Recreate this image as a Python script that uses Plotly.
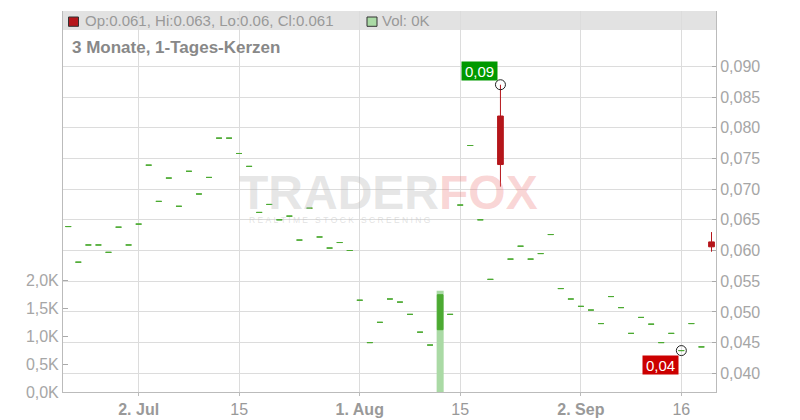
import plotly.graph_objects as go

# ---------------- data ----------------
tick_pos = [7, 17, 29, 39, 51, 61]
tick_labels = ["<b>2. Jul</b>", "15", "<b>1. Aug</b>", "15", "<b>2. Sep</b>", "16"]

open_ = [0.0639, 0.0581, 0.0609, 0.0609, 0.0597, 0.0638, 0.0609, 0.0643, 0.0739, 0.0680,
         0.0718, 0.0672, 0.0729, 0.0692, 0.0719, 0.0783, 0.0783, 0.0758, 0.0737, 0.0662,
         0.0675, 0.0650, 0.0656, 0.0617, 0.0669, 0.0622, 0.0604, 0.0613, 0.0600, 0.0519,
         0.0450, 0.0483, 0.0521, 0.0516, 0.0496, 0.0467, 0.0446, 0.0471, 0.0496, 0.0674,
         0.0771, 0.0650, 0.0553, 0.0819, 0.0586, 0.0607, 0.0586, 0.0595, 0.0626, 0.0538,
         0.0521, 0.0509, 0.0503, 0.0481, 0.0525, 0.0507, 0.0465, 0.0491, 0.0480, 0.0450,
         0.0465, 0.0437, 0.0481, 0.0443, 0.0614]
high = [0.0639, 0.0581, 0.0609, 0.0609, 0.0597, 0.0638, 0.0609, 0.0643, 0.0739, 0.0680,
        0.0718, 0.0672, 0.0729, 0.0692, 0.0719, 0.0783, 0.0783, 0.0758, 0.0737, 0.0662,
        0.0675, 0.0650, 0.0656, 0.0617, 0.0669, 0.0622, 0.0604, 0.0613, 0.0600, 0.0519,
        0.0450, 0.0483, 0.0521, 0.0516, 0.0496, 0.0467, 0.0446, 0.0528, 0.0496, 0.0674,
        0.0771, 0.0650, 0.0553, 0.0870, 0.0586, 0.0607, 0.0586, 0.0595, 0.0626, 0.0538,
        0.0521, 0.0509, 0.0503, 0.0481, 0.0525, 0.0507, 0.0465, 0.0491, 0.0480, 0.0450,
        0.0465, 0.0437, 0.0481, 0.0443, 0.0630]
low = [0.0639, 0.0581, 0.0609, 0.0609, 0.0597, 0.0638, 0.0609, 0.0643, 0.0739, 0.0680,
       0.0718, 0.0672, 0.0729, 0.0692, 0.0719, 0.0783, 0.0783, 0.0758, 0.0737, 0.0662,
       0.0675, 0.0650, 0.0656, 0.0617, 0.0669, 0.0622, 0.0604, 0.0613, 0.0600, 0.0519,
       0.0450, 0.0483, 0.0521, 0.0516, 0.0496, 0.0467, 0.0446, 0.0471, 0.0496, 0.0674,
       0.0771, 0.0650, 0.0553, 0.0704, 0.0586, 0.0607, 0.0586, 0.0595, 0.0626, 0.0538,
       0.0521, 0.0509, 0.0503, 0.0481, 0.0525, 0.0507, 0.0465, 0.0491, 0.0480, 0.0450,
       0.0465, 0.0437, 0.0481, 0.0443, 0.0598]
close = [0.0639, 0.0581, 0.0609, 0.0609, 0.0597, 0.0638, 0.0609, 0.0643, 0.0739, 0.0680,
         0.0718, 0.0672, 0.0729, 0.0692, 0.0719, 0.0783, 0.0783, 0.0758, 0.0737, 0.0662,
         0.0675, 0.0650, 0.0656, 0.0617, 0.0669, 0.0622, 0.0604, 0.0613, 0.0600, 0.0519,
         0.0450, 0.0483, 0.0521, 0.0516, 0.0496, 0.0467, 0.0446, 0.0528, 0.0496, 0.0674,
         0.0771, 0.0650, 0.0553, 0.0740, 0.0586, 0.0607, 0.0586, 0.0595, 0.0626, 0.0538,
         0.0521, 0.0509, 0.0503, 0.0481, 0.0525, 0.0507, 0.0465, 0.0491, 0.0480, 0.0450,
         0.0465, 0.0437, 0.0481, 0.0443, 0.0606]
volume = [0] * 37 + [1810] + [0] * 27

vol_ticks = [0, 500, 1000, 1500, 2000]
vol_labels = ["0,0K", "0,5K", "1,0K", "1,5K", "2,0K"]
price_ticks = [0.040, 0.045, 0.050, 0.055, 0.060, 0.065, 0.070, 0.075, 0.080, 0.085, 0.090]

title_text = "3 Monate, 1-Tages-Kerzen"

# ---------------- styling ----------------
GREEN = "#4caa32"
RED = "#b5161b"
VOLGREEN = "#aadaa5"
GRID = "#dcdcdc"
AXIS = "#bbbbbb"
FONT = "Liberation Sans, Arial, sans-serif"

# plot area in pixels: left 63, right 716, top 11, bottom 392
L, R, T, B = 63, 716, 11, 392
W, H = R - L, B - T
def px(x):
    return (x - L) / W
def py(y):
    return (B - y) / H

n = len(close)
idx = list(range(n))
flat = [open_[i] == close[i] for i in idx]

def pick(arr, cond):
    return [arr[i] if cond(i) else None for i in idx]

fig = go.Figure()

# volume bars (primary y, left)
fig.add_trace(go.Bar(x=idx, y=volume, width=0.7, marker=dict(color=VOLGREEN, line=dict(width=0)),
                     yaxis="y", hoverinfo="skip"))

# flat days: drawn as green dashes
fig.add_trace(go.Candlestick(
    x=[i if flat[i] else None for i in idx],
    open=pick(open_, lambda i: flat[i]), high=pick(high, lambda i: flat[i]),
    low=pick(low, lambda i: flat[i]), close=pick(close, lambda i: flat[i]),
    increasing=dict(line=dict(color=GREEN, width=1), fillcolor=GREEN),
    decreasing=dict(line=dict(color=GREEN, width=1), fillcolor=GREEN),
    yaxis="y2", whiskerwidth=0))

# real candles
fig.add_trace(go.Candlestick(
    x=[i if not flat[i] else None for i in idx],
    open=pick(open_, lambda i: not flat[i]), high=pick(high, lambda i: not flat[i]),
    low=pick(low, lambda i: not flat[i]), close=pick(close, lambda i: not flat[i]),
    increasing=dict(line=dict(color=GREEN, width=1), fillcolor=GREEN),
    decreasing=dict(line=dict(color=RED, width=1), fillcolor=RED),
    yaxis="y2", whiskerwidth=0))

imax = max(idx, key=lambda i: high[i])
imin = min(idx, key=lambda i: low[i])
fig.add_trace(go.Scatter(x=[imax, imin], y=[high[imax], low[imin]], mode="markers", yaxis="y2",
                         marker=dict(symbol="circle-open", size=10, color="#222222", line=dict(width=1)),
                         hoverinfo="skip"))

def fmt2(v):
    return f"{v:.2f}".replace(".", ",")

def fmtg(v):
    return f"{round(v, 3):g}"

annotations = [
    dict(x=imax, y=high[imax], xref="x", yref="y2", text=fmt2(high[imax]), showarrow=False,
         xanchor="right", yanchor="bottom", xshift=-2.5, yshift=4,
         bgcolor="#009900", font=dict(color="white", size=15, family=FONT),
         width=35, height=18, borderpad=0),
    dict(x=imin, y=low[imin], xref="x", yref="y2", text=fmt2(low[imin]), showarrow=False,
         xanchor="right", yanchor="top", xshift=-2.5, yshift=-4.5,
         bgcolor="#cc0000", font=dict(color="white", size=15, family=FONT),
         width=35, height=18, borderpad=0),
    # header
    dict(x=px(84), y=py(20.7), xref="paper", yref="paper", xanchor="left", yanchor="middle",
         showarrow=False, borderpad=0,
         text=f"Op:{fmtg(open_[-1])}, Hi:{fmtg(high[-1])}, Lo:{fmtg(low[-1])}, Cl:{fmtg(close[-1])}",
         font=dict(size=15, color="#999999", family=FONT)),
    dict(x=px(381), y=py(20.7), xref="paper", yref="paper", xanchor="left", yanchor="middle",
         showarrow=False, borderpad=0, text=f"Vol: {volume[-1] / 1000:g}K",
         font=dict(size=15, color="#999999", family=FONT)),
    dict(x=px(71), y=py(47.5), xref="paper", yref="paper", xanchor="left", yanchor="middle",
         showarrow=False, borderpad=0, text=f"<b>{title_text}</b>",
         font=dict(size=17, color="#888888", family=FONT)),
    # watermark
    dict(x=px(388.5), y=py(192), xref="paper", yref="paper", xanchor="center", yanchor="middle",
         showarrow=False, borderpad=0,
         text="<b><span style='color:rgba(190,190,190,0.4)'>TRADER</span>"
              "<span style='color:rgba(235,110,110,0.28)'>FOX</span></b>",
         font=dict(size=48, family=FONT)),
    dict(x=px(339.5), y=py(219.5), xref="paper", yref="paper", xanchor="center", yanchor="middle",
         showarrow=False, borderpad=0,
         text="\u00a0".join("REALTIME\u00a0STOCK\u00a0SCREENING"),
         font=dict(size=8.5, color="rgba(190,190,190,0.45)", family=FONT)),
]

shapes = [
    dict(type="rect", xref="paper", yref="paper", x0=0, x1=1, y0=py(30), y1=1,
         fillcolor="#e2e2e2", line=dict(width=0), layer="below"),
    dict(type="rect", xref="paper", yref="paper", x0=px(68.5), x1=px(78.5), y0=py(26.3), y1=py(17),
         fillcolor=RED, line=dict(color="#333333", width=1), layer="above"),
    dict(type="rect", xref="paper", yref="paper", x0=px(367), x1=px(377), y0=py(26.3), y1=py(17),
         fillcolor=VOLGREEN, line=dict(color="#333333", width=1), layer="above"),
]

# price scale: 0.040 at y=373.3, 6140 px per unit
pmin = 0.040 - (B - 373.3) / 6140
pmax = 0.040 + (373.3 - T) / 6140
vmax = (392.3 - T) / 0.056

fig.update_layout(
    width=800, height=420, autosize=False,
    margin=dict(l=L, r=800 - R, t=T, b=420 - B, pad=0, autoexpand=False),
    paper_bgcolor="white", plot_bgcolor="rgba(0,0,0,0)",
    separators=",.",
    showlegend=False,
    boxgap=0.43, boxgroupgap=0,
    font=dict(family=FONT),
    xaxis=dict(range=[(L - 68.3) / 10.05, (R - 68.3) / 10.05], tickmode="array", automargin=False,
               tickvals=tick_pos, ticktext=tick_labels, showgrid=True, gridcolor=GRID, gridwidth=1,
               showline=True, linecolor=AXIS, linewidth=1, ticks="outside", ticklen=3, tickcolor=AXIS,
               tickfont=dict(size=16, color="#999999"), zeroline=False,
               rangeslider=dict(visible=False)),
    yaxis=dict(range=[0, vmax], side="left", tickmode="array", tickvals=vol_ticks, ticktext=vol_labels,
               automargin=False,
               ticks="inside", ticklen=5, tickcolor="#aaaaaa", showgrid=False, zeroline=False,
               showline=True, linecolor=AXIS, linewidth=1, tickfont=dict(size=16, color="#a6a6a6")),
    yaxis2=dict(range=[pmin, pmax], overlaying="y", side="right", tickmode="array", automargin=False,
                tickvals=price_ticks, tickformat=".3f", ticks="inside", ticklen=4, tickcolor="#aaaaaa",
                showgrid=True, gridcolor=GRID, gridwidth=1, zeroline=False,
                showline=True, linecolor=AXIS, linewidth=1, tickfont=dict(size=16, color="#a6a6a6")),
    annotations=annotations,
    shapes=shapes,
)

# the page's default body margin would offset the figure by 8 px
fig.write_html("out.html", config={"displayModeBar": False},
               post_script="document.body.style.margin='0';document.body.style.overflow='hidden';")
